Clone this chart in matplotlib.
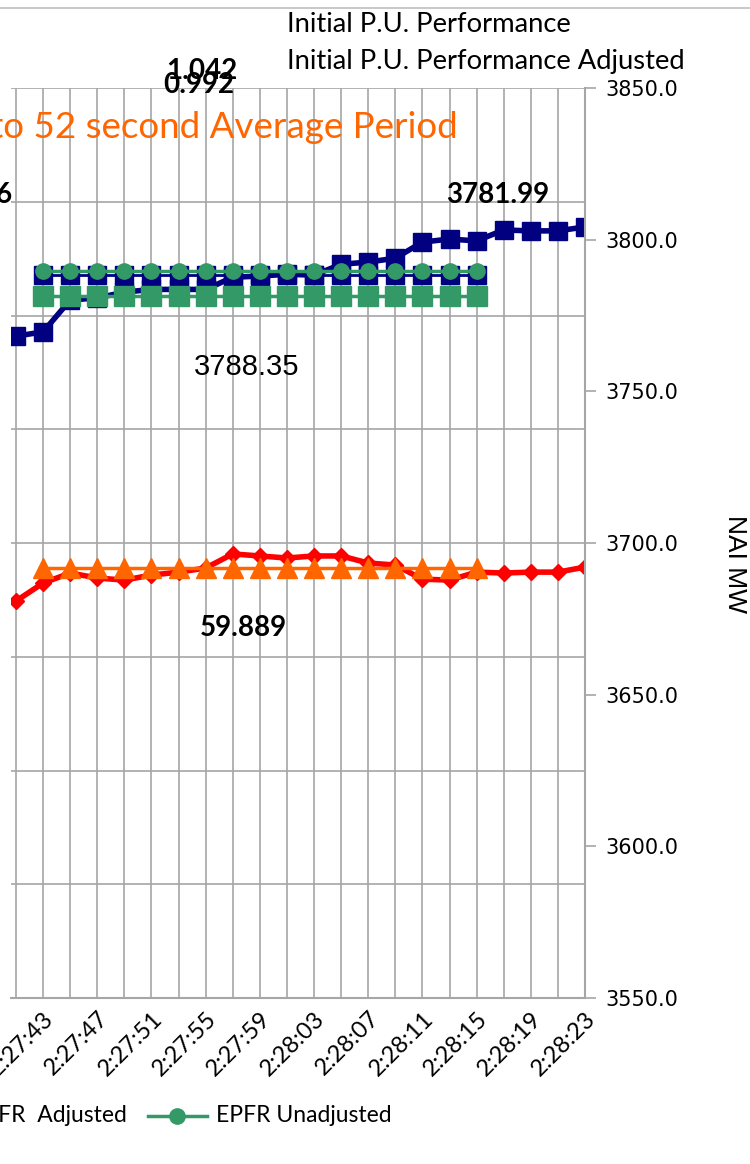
import matplotlib
matplotlib.use("Agg")
import matplotlib.pyplot as plt
from matplotlib.lines import Line2D
from matplotlib.ticker import FormatStrFormatter, MultipleLocator

# time stamps, 2 second scan rate
times = ['2:27:41', '2:27:43', '2:27:45', '2:27:47', '2:27:49', '2:27:51',
         '2:27:53', '2:27:55', '2:27:57', '2:27:59', '2:28:01', '2:28:03',
         '2:28:05', '2:28:07', '2:28:09', '2:28:11', '2:28:13', '2:28:15',
         '2:28:17', '2:28:19', '2:28:21', '2:28:23']

nai_mw = [3768.2, 3769.6, 3780.1, 3780.8, 3782.7, 3783.6, 3783.6, 3783.6,
          3787.6, 3788.0, 3788.6, 3788.3, 3791.9, 3792.6, 3793.9, 3799.2,
          3800.2, 3799.6, 3803.2, 3802.9, 3802.9, 3804.2]

frequency = [59.8745, 59.8824, 59.8868, 59.8846, 59.8837, 59.8859, 59.8872,
             59.8890, 59.8952, 59.8943, 59.8934, 59.8943, 59.8943, 59.8912,
             59.8903, 59.8841, 59.8837, 59.8872, 59.8868, 59.8872, 59.8872,
             59.8894]

# averaging window (2:27:43 .. 2:28:15)
avg_start, avg_end = 1, 17
nai_avg = 3788.35
epfr_adjusted = 3781.5
epfr_unadjusted = 3789.6
freq_avg = 59.889

W, H = 750, 1164
fig = plt.figure(figsize=(W / 100, H / 100), dpi=100)


def fx(x):
    return x / W


def fy(y):
    return 1 - y / H


ax = fig.add_axes([fx(11), fy(998), fx(585) - fx(11), fy(88) - fy(998)])
ax2 = ax.twinx()

idx = list(range(len(times)))
win = list(range(avg_start, avg_end + 1))

# frequency on the left (hidden) axis
ax.plot(idx, frequency, color='#FF0000', lw=4, marker='D', ms=8, zorder=3)
ax.plot(win, [freq_avg] * len(win), color='#FF6600', lw=2.5, marker='^',
        ms=15, zorder=4)
ax.set_ylim(59.70, 60.10)
ax.yaxis.set_major_locator(MultipleLocator(0.05))
ax.set_xlim(-0.185, len(times) - 1)
ax.set_xticks(idx)
ax.set_xticklabels([t if i % 2 == 1 else '' for i, t in enumerate(times)],
                   rotation=45, ha='right', rotation_mode='anchor',
                   fontsize=17, family='Lato')
ax.tick_params(axis='x', length=0, pad=7)
ax.tick_params(axis='y', left=False, labelleft=False)
ax.grid(True, color='#A6A6A6', lw=1.2)
ax.set_axisbelow(True)
for s in ['left', 'top', 'right']:
    ax.spines[s].set_visible(False)
ax.spines['bottom'].set_color('#A6A6A6')
ax.spines['bottom'].set_linewidth(1.5)

# MW on the right axis
ax2.plot(idx, nai_mw, color='#000080', lw=4, marker='s', ms=13.5, zorder=2)
ax2.plot(win, [nai_avg] * len(win), color='#000080', lw=2, marker='s',
         ms=13.5, zorder=3)
ax2.plot(win, [epfr_adjusted] * len(win), color='#339966', lw=2.5,
         marker='s', ms=15, zorder=4)
ax2.plot(win, [epfr_unadjusted] * len(win), color='#339966', lw=2.5,
         marker='o', ms=11, zorder=5)
ax2.set_ylim(3550, 3850)
ax2.yaxis.set_major_locator(MultipleLocator(50))
ax2.yaxis.set_major_formatter(FormatStrFormatter('%.1f'))
ax2.tick_params(axis='y', labelsize=15, length=8, width=1.2,
                color='#A6A6A6', pad=7)
for lab in ax2.get_yticklabels():
    lab.set_family('DejaVu Sans')
for s in ['left', 'top', 'bottom']:
    ax2.spines[s].set_visible(False)
ax2.spines['right'].set_color('#A6A6A6')
ax2.spines['right'].set_linewidth(1.5)

fig.text(fx(735), fy(564), 'NAI MW', rotation=270, ha='center', va='center',
         fontsize=19, family='Liberation Sans')

# top border line
fig.add_artist(Line2D([0, 1], [fy(8), fy(8)], transform=fig.transFigure,
                      color='#BFBFBF', lw=1.2))

# legend entries at the top
fig.text(fx(287), fy(25), 'Initial P.U. Performance', ha='left', va='center',
         fontsize=19.7, family='Lato')
fig.text(fx(287), fy(62), 'Initial P.U. Performance Adjusted', ha='left',
         va='center', fontsize=19.7, family='Lato')

# value labels
bold = dict(family='Lato', weight='bold', fontsize=20, ha='center',
            va='center')
fig.text(fx(202), fy(71), '1.042', **bold)
fig.text(fx(199), fy(85), '0.992', **bold)
fig.text(fx(498), fy(195), '3781.99', **bold)
fig.text(fx(243), fy(628), '59.889', **bold)
fig.text(fx(12), fy(195), '3776.56', family='Lato', weight='bold',
         fontsize=20, ha='right', va='center')
fig.text(fx(247), fy(367), '3788.35', ha='center', va='center', fontsize=21,
         family='Liberation Sans')
fig.text(fx(458), fy(127), '20 to 52 second Average Period', ha='right',
         va='center', fontsize=26.5, family='Lato', color='#FF6600')

# bottom legend
fig.text(fx(127), fy(1116), 'EPFR  Adjusted', ha='right', va='center',
         fontsize=16.5, family='Lato')
fig.add_artist(Line2D([fx(148), fx(207)], [fy(1116), fy(1116)],
                      transform=fig.transFigure, color='#339966', lw=2.5))
fig.add_artist(Line2D([fx(177)], [fy(1116)], transform=fig.transFigure,
                      color='#339966', marker='o', ms=11))
fig.text(fx(216), fy(1116), 'EPFR Unadjusted', ha='left', va='center',
         fontsize=16.5, family='Lato')

fig.savefig('out.png', dpi=100)
